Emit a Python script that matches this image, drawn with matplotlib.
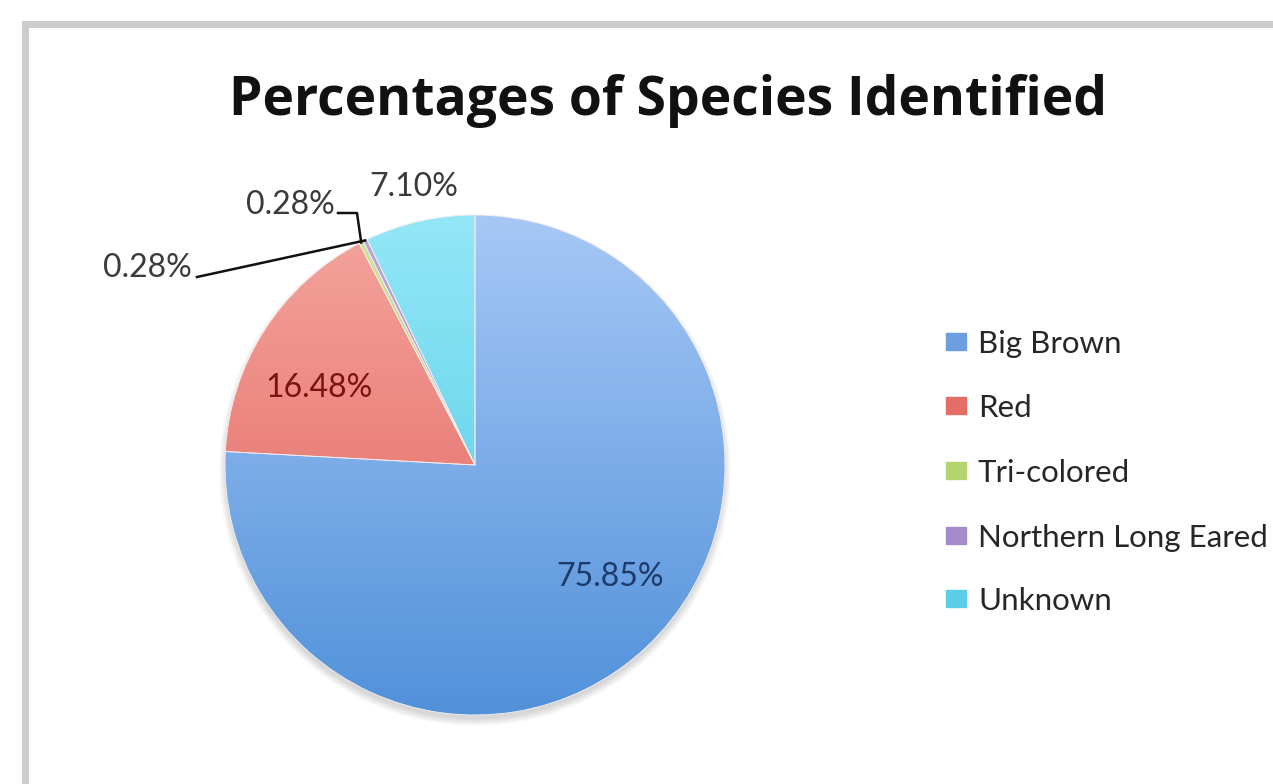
import numpy as np
import matplotlib.pyplot as plt
from matplotlib.colors import LinearSegmentedColormap
from matplotlib.patches import Rectangle

species = ['Big Brown', 'Red', 'Tri-colored', 'Northern Long Eared', 'Unknown']
percents = [75.85, 16.48, 0.28, 0.28, 7.10]
top_colors = ['#a6c8f6', '#f5a59f', '#cde596', '#bca6dc', '#93e7f7']
bottom_colors = ['#5191da', '#df5d56', '#a5c95c', '#9479c2', '#4cc8e4']
legend_colors = ['#6d9fe0', '#e46d66', '#b4d46e', '#a58bcb', '#5bcde8']

W, H = 1273, 784
fig = plt.figure(figsize=(W / 100, H / 100), dpi=100)
ax = fig.add_axes([0, 0, 1, 1])

# chart frame (only top and left edges are visible)
ax.add_patch(Rectangle((24.5, -40), W + 40, H - 23.5 + 40, fill=False,
                       edgecolor='#cccccc', linewidth=5))

cx, cy, r = 475, H - 465, 250

# soft shadow under the pie
for i in range(10):
    ax.add_patch(plt.Circle((cx, cy - 5), r + 6 - i * 0.8, color='#000000',
                            alpha=0.015, zorder=1, linewidth=0))

wedges, _ = ax.pie(percents, center=(cx, cy), radius=r, startangle=90,
                   counterclock=False, frame=True,
                   wedgeprops=dict(edgecolor='#f4eeee', linewidth=0.6))

grad = np.linspace(0, 1, 256).reshape(-1, 1)
for w, c0, c1 in zip(wedges, top_colors, bottom_colors):
    w.set_facecolor('none')
    w.set_zorder(3)
    cmap = LinearSegmentedColormap.from_list('g', [c0, c1])
    im = ax.imshow(grad, cmap=cmap, extent=(cx - r, cx + r, cy - r, cy + r),
                   origin='upper', aspect='auto', zorder=2, interpolation='bilinear')
    im.set_clip_path(w)
ax.set_xlim(0, W)
ax.set_ylim(0, H)
ax.set_aspect('equal')
ax.axis('off')

body_font = 'Lato'
lab_size = 23

# data labels
ax.text(610, H - 577, f'{percents[0]:.2f}%', color='#1c3a6a', fontsize=lab_size,
        family=body_font, ha='center', va='center', zorder=5)
ax.text(319, H - 388, f'{percents[1]:.2f}%', color='#7a1212', fontsize=lab_size,
        family=body_font, ha='center', va='center', zorder=5)
ax.text(414, H - 187, f'{percents[4]:.2f}%', color='#3a3a3a', fontsize=lab_size,
        family=body_font, ha='center', va='center', zorder=5)

# small slices with leader lines
leaders = [(2, (290, 205), [(338, 213), (357, 213)]),
           (3, (147, 268), [(197, 277)])]
for idx, (tx, ty), pts in leaders:
    w = wedges[idx]
    ang = np.deg2rad((w.theta1 + w.theta2) / 2)
    px, py = cx + r * np.cos(ang), cy + r * np.sin(ang)
    ax.text(tx, H - ty, f'{percents[idx]:.2f}%', color='#3a3a3a',
            fontsize=lab_size, family=body_font, ha='center', va='center', zorder=5)
    xs = [p[0] for p in pts] + [px]
    ys = [H - p[1] for p in pts] + [py]
    ax.plot(xs, ys, color='#111111', linewidth=1.8, zorder=6)

fig.text(668 / W, 1 - 115 / H, 'Percentages of Species Identified',
         fontsize=38.5, fontweight='bold', family='Open Sans',
         ha='center', va='baseline', color='#111111')

# legend
ly = [353, 417, 482, 547, 610]
for name, col, y in zip(species, legend_colors, ly):
    ax.add_patch(Rectangle((946, H - y + 3), 20, 17, color=col))
    ax.text(978, H - y, name, fontsize=22.5, family=body_font,
            ha='left', va='baseline', color='#262626')

fig.savefig('out.png', dpi=100)
